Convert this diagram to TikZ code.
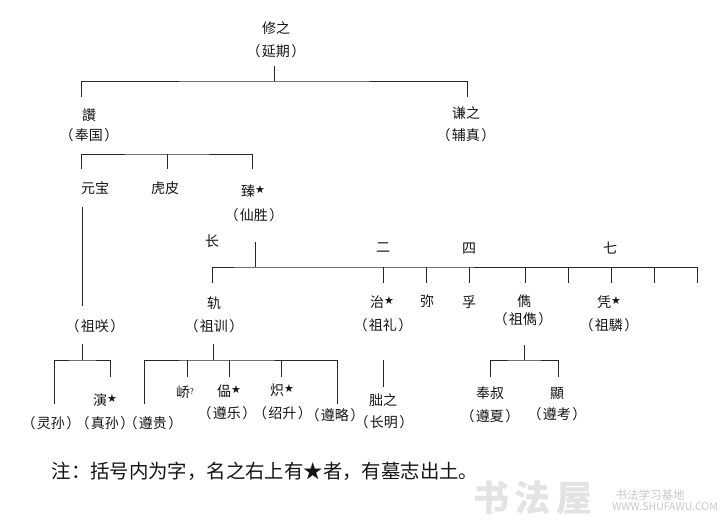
\documentclass[tikz,border=0pt]{standalone}
\usepackage{fontspec}
\setmainfont[RawFeature=+palt]{Noto Sans CJK SC}
\newfontfamily\notefont{Noto Sans CJK SC}
\newfontfamily\xingfont{DejaVu Sans}
\usetikzlibrary{calc}
\newcommand\xing{\raisebox{2.5pt}{\xingfont\fontsize{11}{11}\selectfont ★}}
\newcommand\zi[1]{（\kern2pt #1\kern2pt）}
\newcommand\wtip[3]{\coordinate (#1) at ($(#2)+(#3)$);}
\tikzset{
  lab/.style={inner sep=0pt,text height=12pt,text depth=2pt,font=\fontsize{14}{14}\selectfont,text=black!92},
  wire/.style={line width=0.9pt,draw=black!85},
  wmark/.style={inner sep=0pt,text=black!22}
}
\begin{document}
\begin{tikzpicture}[x=1pt,y=-1pt]
\useasboundingbox (0,0) rectangle (721,527);
% nodes
\node[lab] (xiu) at (276,29) {修之};
\node[lab] (yanqi) at (276,52) {\zi{延期}};
\node[lab] (zan) at (89,116) {讚};
\node[lab] (fengguo) at (89,135) {\zi{奉国}};
\node[lab] (qian) at (466,113) {谦之};
\node[lab] (fuzhen) at (466,135) {\zi{辅真}};
\node[lab] (yuanbao) at (95,188) {元宝};
\node[lab] (hupi) at (165,188) {虎皮};
\node[lab] (zhen) at (253,191) {臻\xing};
\node[lab] (xiansheng) at (254,215) {\zi{仙胜}};
\node[lab] (chang) at (212,241) {长};
\node[lab] (er) at (383,247) {二};
\node[lab] (si) at (469,248) {四};
\node[lab] (qi) at (610,248) {七};
\node[lab] (gui) at (214,303) {轨};
\node[lab] (zuxun) at (214,326) {\zi{祖训}};
\node[lab] (zhi) at (382,302) {治\xing};
\node[lab] (zuli) at (383,325) {\zi{祖礼}};
\node[lab] (mi) at (427,301) {弥};
\node[lab] (fu) at (469,302) {孚};
\node[lab] (jun) at (524,301) {儁};
\node[lab] (zujun) at (523,319) {\zi{祖儁}};
\node[lab] (ping) at (609,302) {凭\xing};
\node[lab] (zulin) at (609,325) {\zi{祖驎}};
\node[lab] (zuxiao) at (95,326) {\zi{祖咲}};
\node[lab] (lingsun) at (51,423) {\zi{灵孙}};
\node[lab] (yan) at (105,400) {演\xing};
\node[lab] (zhensun) at (105,423) {\zi{真孙}};
\node[lab] (zungui) at (153,423) {\zi{遵贵}};
\node[lab] (qiao) at (185,392) {峤\raisebox{3pt}{\fontsize{8}{8}\selectfont ?}};
\node[lab] (kan) at (229,391) {偘\xing};
\node[lab] (zunle) at (227,413) {\zi{遵乐}};
\node[lab] (chi) at (282,390) {炽\xing};
\node[lab] (shaosheng) at (282.5,413) {\zi{绍升}};
\node[lab] (zunlue) at (335,415) {\zi{遵略}};
\node[lab] (fei) at (383,400) {胐之};
\node[lab] (changming) at (384,422) {\zi{长明}};
\node[lab] (fengshu) at (490,393) {奉叔};
\node[lab] (zunxia) at (490,416) {\zi{遵夏}};
\node[lab] (xian) at (557,393) {顯};
\node[lab] (zunkao) at (557,414) {\zi{遵考}};
\node[inner sep=0pt,text=black!92,font=\notefont\fontsize{19.4}{19.4}\selectfont] (note) at (265,471.5) {注：括号内为字，名之右上有★者，有墓志出土。};
% watermark
\node[wmark,text=black!11,font=\bfseries\fontsize{36}{36}\selectfont] (wm1) at (533,498) {书\kern6pt 法\kern6pt 屋};
\node[wmark,font=\fontsize{11.5}{12}\selectfont] (wm2) at (650,495) {书法学习基地};
\node[wmark,font=\fontsize{10.5}{12}\selectfont] (wm3) at (665,507) {WWW.SHUFAWU.COM};
% junctions
\coordinate (bus1) at (274,81);
\coordinate (bus2) at (167,154);
\coordinate (bus3) at (82.5,360);
\coordinate (bus4) at (255,267);
\coordinate (bus5) at (524,360);
\coordinate (bus6) at (213,360);
\coordinate (e1) at (568,283);
\coordinate (e2) at (654,283);
\coordinate (e3) at (697,283);
% tips
\wtip{a0}{yanqi.south}{-2,7}
\wtip{a1}{zan.north}{-7.5,-12}
\wtip{a2}{qian.north}{1,-9}
\wtip{b1}{yuanbao.north}{-13.5,-12}
\wtip{b2}{hupi.north}{2,-12}
\wtip{b3}{zhen.north}{-1,-15}
\wtip{c1}{yuanbao.south}{-12.5,12}
\wtip{c2}{zuxiao.north}{-12.5,-13}
\wtip{c3}{zuxiao.south}{-12.5,11}
\wtip{d1}{lingsun.north}{3,-12}
\wtip{d2}{yan.north}{5,-16}
\wtip{f0}{xiansheng.south}{1,20}
\wtip{f1}{gui.north}{-2,-13}
\wtip{f2}{zhi.north}{1,-12}
\wtip{f3}{mi.north}{-1,-11}
\wtip{f4}{fu.north}{0,-12}
\wtip{f5}{jun.north}{1,-11}
\wtip{f6}{ping.north}{2,-12}
\wtip{g1}{zuli.south}{0,28}
\wtip{g2}{fei.north}{0,-6}
\wtip{h0}{zujun.south}{1,19}
\wtip{h1}{fengshu.north}{0,-9}
\wtip{h2}{xian.north}{1,-9}
\wtip{i0}{zuxun.south}{-1,11}
\wtip{i1}{zungui.north}{-9,-12}
\wtip{i2}{qiao.north}{2,-8}
\wtip{i3}{kan.north}{0,-7}
\wtip{i4}{chi.north}{-1,-6}
\wtip{i5}{zunlue.north}{2,-4}
% connectors
\draw[wire] (a0) -- (bus1);
\draw[wire] (a1) |- (bus1) -| (a2);
\draw[wire] (b1) |- (bus2) -| (b3);
\draw[wire] (b2) -- (bus2);
\draw[wire] (c1) -- (c2);
\draw[wire] (c3) -- (bus3);
\draw[wire] (d1) |- (bus3) -| (d2);
\draw[wire] (f0) -- (bus4);
\draw[wire] (f1) |- (bus4) -| (e3);
\foreach \s in {f2,f3,f4,f5,e1,f6,e2}{\draw[wire] (\s) -- (\s |- bus4);}
\draw[wire] (g1) -- (g2);
\draw[wire] (h0) -- (bus5);
\draw[wire] (h1) |- (bus5) -| (h2);
\draw[wire] (i0) -- (bus6);
\draw[wire] (i1) |- (bus6) -| (i5);
\foreach \s in {i2,i3,i4}{\draw[wire] (\s) -- (\s |- bus6);}
\end{tikzpicture}
\end{document}
